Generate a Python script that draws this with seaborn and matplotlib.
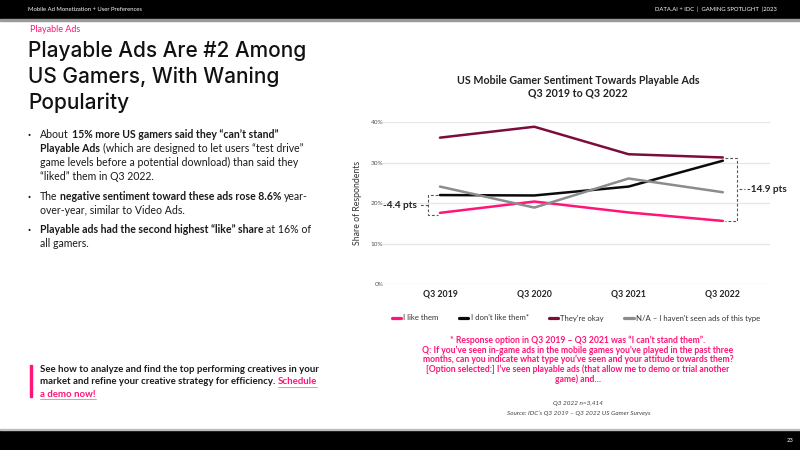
import matplotlib
matplotlib.use("Agg")
import matplotlib.pyplot as plt
from matplotlib.lines import Line2D
from matplotlib.patches import Rectangle
import seaborn as sns
import pandas as pd
import numpy as np

# ---------------- data ----------------
quarters = ["Q3 2019", "Q3 2020", "Q3 2021", "Q3 2022"]
series_names = ["I like them", "I don't like them*", "They're okay", "N/A – I haven't seen ads of this type"]
like_vals = [17.6, 20.4, 17.7, 15.6]
dislike_vals = [22.0, 21.9, 24.1, 30.5]
okay_vals = [36.2, 38.9, 32.1, 31.3]
na_vals = [24.1, 18.9, 26.1, 22.7]
y_ticks = [0, 10, 20, 30, 40]
y_tick_labels = ["0%", "10%", "20%", "30%", "40%"]
diff_2019_label = "-4.4 pts"
diff_2022_label = "-14.9 pts"

PINK = "#ff1477"
MAROON = "#7b0c3c"
BLACK = "#0a0a0a"
GRAY = "#8c8c8c"
palette = [PINK, BLACK, MAROON, GRAY]

rows = []
for name, vals in zip(series_names, [like_vals, dislike_vals, okay_vals, na_vals]):
    for i, (q, v) in enumerate(zip(quarters, vals)):
        rows.append({"series": name, "quarter": q, "pos": i, "value": v})
df = pd.DataFrame(rows)

sns.set_theme(style="white")
FONT = ["Lato", "DejaVu Sans"]
plt.rcParams["font.family"] = FONT

W, H = 800, 450
fig = plt.figure(figsize=(8, 4.5), dpi=100)
fig.patch.set_facecolor("white")

def fx(x):
    return x / W

def fy(y):
    return 1 - y / H

# header/footer bars
fig.add_artist(Rectangle((0, fy(19)), 1, 19 / H, transform=fig.transFigure, color="black", zorder=0))
fig.add_artist(Rectangle((0, fy(20.5)), 1, 1.5 / H, transform=fig.transFigure, color="#9a9a9a", zorder=0))
fig.add_artist(Rectangle((0, 0), 1, 20 / H, transform=fig.transFigure, color="black", zorder=0))
fig.add_artist(Rectangle((0, 20 / H), 1, 1.5 / H, transform=fig.transFigure, color="#bdbdbd", zorder=0))
fig.text(fx(28), fy(9.5), "Mobile Ad Monetization + User Preferences", color="white", fontsize=4.2, va="center", ha="left")
fig.text(fx(777), fy(9.5), "DATA.AI + IDC  |  GAMING SPOTLIGHT  |2023", color="white", fontsize=4.2, va="center", ha="right")
fig.text(fx(793), fy(440), "23", color="white", fontsize=4.2, va="center", ha="right")

# left side texts
fig.text(fx(30), fy(30), "Playable Ads", color=PINK, fontsize=6.5, va="center", ha="left")
for i, line in enumerate(["Playable Ads Are #2 Among", "US Gamers, With Waning", "Popularity"]):
    fig.text(fx(28), fy(56.7 + i * 26.3), line, color="#111111", fontsize=15.0, va="baseline", ha="left",
             family=["Inter", "DejaVu Sans"], fontweight="medium")

renderer = fig.canvas.get_renderer()

def text_width(s, size, weight):
    t = fig.text(0, 0, s, fontsize=size, fontweight=weight)
    w = t.get_window_extent(renderer).width
    t.remove()
    return w

def draw_runs(x, y, runs, size=7.3):
    for s, weight, color, ul in runs:
        sp = text_width("a a", size, weight) - text_width("aa", size, weight)
        core = s.strip(" ")
        lead = len(s) - len(s.lstrip(" "))
        trail = len(s) - len(s.rstrip(" "))
        x += lead * sp
        t = fig.text(fx(x), fy(y), core, fontsize=size, fontweight=weight, color=color, va="baseline", ha="left")
        w = t.get_window_extent(renderer).width
        if ul:
            fig.add_artist(Line2D([fx(x), fx(x + w)], [fy(y + 2.2), fy(y + 2.2)], transform=fig.transFigure,
                                  color=color, lw=0.6, alpha=0.6))
        x += w + trail * sp
    return x

N, B = "normal", "bold"
DK = "#1a1a1a"
bullets = [
    [[("About ", N, DK, False), ("15% more US gamers said they “can’t stand”", B, DK, False)],
     [("Playable Ads", B, DK, False), (" (which are designed to let users “test drive”", N, DK, False)],
     [("game levels before a potential download) than said they", N, DK, False)],
     [("“liked” them in Q3 2022.", N, DK, False)]],
    [[("The ", N, DK, False), ("negative sentiment toward these ads rose 8.6%", B, DK, False), (" year-", N, DK, False)],
     [("over-year, similar to Video Ads.", N, DK, False)]],
    [[("Playable ads had the second highest “like” share", B, DK, False), (" at 16% of", N, DK, False)],
     [("all gamers.", N, DK, False)]],
]
bullet_tops = [138.5, 200, 233]
for top, lines in zip(bullet_tops, bullets):
    fig.text(fx(28), fy(top), "·", fontsize=8, fontweight="bold", color=DK, va="baseline", ha="left")
    for j, runs in enumerate(lines):
        draw_runs(40, top + j * 14, runs, size=7.6)

# CTA
fig.add_artist(Rectangle((fx(29.5), fy(397)), 2.2 / W, 32 / H, transform=fig.transFigure, color=PINK))
cta = [
    [("See how to analyze and find the top performing creatives in your", B, DK, False)],
    [("market and refine your creative strategy for efficiency. ", B, DK, False), ("Schedule", B, PINK, True)],
    [("a demo now!", B, PINK, True)],
]
for j, runs in enumerate(cta):
    draw_runs(40, 372 + j * 12.5, runs, size=6.9)

# ---------------- chart ----------------
ax = fig.add_axes([fx(382), fy(284), fx(770) - fx(382), (284 - 122.3) / H])
sns.lineplot(data=df, x="pos", y="value", hue="series", hue_order=series_names,
             palette=palette, linewidth=1.8, ax=ax, legend=False, sort=False)
ax.set_xlim(-0.615, 3.5)
ax.set_ylim(0, 40)
ax.set_yticks(y_ticks)
ax.set_yticklabels(y_tick_labels, fontsize=4.6, color="#555555")
ax.set_xticks(range(len(quarters)))
ax.set_xticklabels(quarters, fontsize=6.3, fontweight="bold", color="#222222")
ax.tick_params(axis="y", length=0, pad=-1)
ax.tick_params(axis="x", length=0, pad=4)
ax.yaxis.grid(True, color="#e6e6e6", lw=0.9)
ax.xaxis.grid(False)
for s in ax.spines.values():
    s.set_visible(False)
ax.set_xlabel("")
ax.set_ylabel("Share of Respondents", fontsize=6.3, color="#333333", labelpad=6)
ax.patch.set_alpha(0)

# difference brackets
bk = dict(color="#555555", lw=0.8, ls=(0, (2.5, 1.8)), clip_on=False)
x0 = 0
ax.plot([x0 - 0.02, x0 - 0.13, x0 - 0.13, x0 - 0.02], [dislike_vals[0], dislike_vals[0], like_vals[0] - 0.6, like_vals[0] - 0.6], **bk)
mid0 = (dislike_vals[0] + like_vals[0]) / 2 - 0.3
ax.plot([x0 - 0.13, x0 - 0.22], [mid0, mid0], **bk)
ax.text(x0 - 0.24, mid0, diff_2019_label, ha="right", va="center", fontsize=7.2, fontweight="bold", color="#222222")
x3 = 3
ax.plot([x3 + 0.02, x3 + 0.15, x3 + 0.15, x3 + 0.02], [dislike_vals[3] + 0.7, dislike_vals[3] + 0.7, like_vals[3] - 0.1, like_vals[3] - 0.1], **bk)
mid3 = (dislike_vals[3] + 0.7 + like_vals[3]) / 2
ax.plot([x3 + 0.17, x3 + 0.24], [mid3, mid3], **bk)
ax.text(x3 + 0.26, mid3, diff_2022_label, ha="left", va="center", fontsize=7.2, fontweight="bold", color="#222222")

# chart title
fig.text(fx(578), fy(80), "US Mobile Gamer Sentiment Towards Playable Ads", ha="center", va="center", fontsize=7.7, fontweight="bold", color="#222222")
fig.text(fx(578), fy(93), "Q3 2019 to Q3 2022", ha="center", va="center", fontsize=7.7, fontweight="bold", color="#222222")

# legend
handles = [Line2D([0], [0], color=c, lw=2.3) for c in palette]
leg = fig.legend(handles, series_names,
                 loc="center", bbox_to_anchor=(fx(576), fy(318)), ncol=4, frameon=False,
                 fontsize=5.6, handlelength=1.2, handletextpad=0.3, columnspacing=2.6)
for t in leg.get_texts():
    t.set_color("#333333")

# footnotes
foot = ["* Response option in Q3 2019 – Q3 2021 was “I can’t stand them”.",
        "Q: If you’ve seen in-game ads in the mobile games you’ve played in the past three",
        "months, can you indicate what type you’ve seen and your attitude towards them?",
        "[Option selected:] I’ve seen playable ads (that allow me to demo or trial another",
        "game) and…"]
for i, line in enumerate(foot):
    fig.text(fx(578), fy(340 + i * 9.8), line, ha="center", va="center", fontsize=6.2, fontweight="bold", color=PINK)
fig.text(fx(578), fy(404), "Q3 2022 n=3,414", ha="center", va="center", fontsize=4.6, style="italic", color="#444444")
fig.text(fx(579), fy(413), "Source: IDC’s Q3 2019 – Q3 2022 US Gamer Surveys", ha="center", va="center", fontsize=4.6, style="italic", color="#444444")

fig.savefig("out.png", dpi=100, facecolor="white")
